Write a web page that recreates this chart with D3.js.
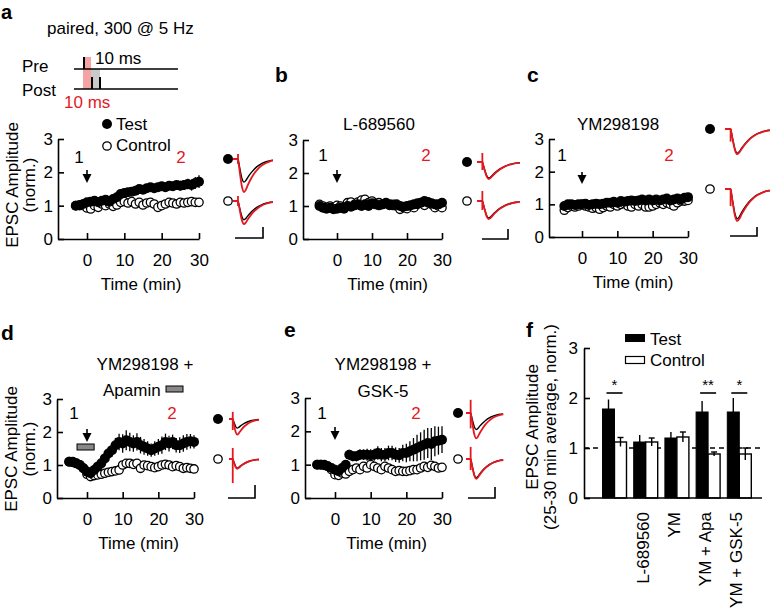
<!DOCTYPE html>
<html>
<head>
<meta charset="utf-8">
<script src="https://cdn.jsdelivr.net/npm/d3@7"></script>
<style>
body { margin: 0; background: #fff; }
svg text { font-family: "Liberation Sans", Arial, sans-serif; }
</style>
</head>
<body>
<script>
const RED = "#e3191f";
const FS = 17;

// time points (min)
const timeA = [-3,-2,-1,0,1,2,3,4,5,6,7,8,9,10,11,12,13,14,15,16,17,18,19,20,21,22,23,24,25,26,27,28,29,30];
const timeFull = [-5,-4,-3,-2,-1,0,1,2,3,4,5,6,7,8,9,10,11,12,13,14,15,16,17,18,19,20,21,22,23,24,25,26,27,28,29,30];

// panel a, paired
const testA = [1.00,1.02,1.05,1.10,1.12,1.15,1.10,1.15,1.18,1.12,1.20,1.25,1.35,1.38,1.40,1.42,1.45,1.50,1.48,1.52,1.55,1.52,1.55,1.58,1.55,1.60,1.58,1.62,1.60,1.62,1.65,1.62,1.68,1.72];
const testAErr = [0.04,0.04,0.05,0.06,0.06,0.07,0.07,0.07,0.08,0.08,0.08,0.09,0.09,0.10,0.10,0.10,0.10,0.11,0.11,0.11,0.12,0.12,0.12,0.13,0.13,0.13,0.14,0.14,0.15,0.15,0.16,0.17,0.18,0.19];
const ctrlA = [1.00,1.00,1.00,0.93,0.90,1.00,0.95,1.05,1.00,1.05,0.98,1.02,1.10,1.12,1.08,1.12,1.05,1.10,1.02,1.08,1.10,1.05,0.95,1.00,1.05,1.10,1.08,1.05,1.10,1.08,1.10,1.12,1.10,1.10];
const ctrlAErr = [0.04,0.04,0.04,0.05,0.05,0.05,0.05,0.05,0.05,0.05,0.05,0.05,0.06,0.06,0.06,0.06,0.06,0.06,0.06,0.06,0.06,0.06,0.06,0.06,0.06,0.06,0.06,0.06,0.06,0.06,0.06,0.06,0.06,0.06];

// panel b, L-689560
const testB = [1.00,0.95,0.92,0.95,0.90,0.92,0.95,0.92,1.00,0.98,1.02,1.05,1.00,1.05,1.00,1.08,1.05,1.02,1.05,1.08,1.05,1.02,1.05,1.00,0.98,1.00,1.02,1.05,1.08,1.10,1.15,1.12,1.08,1.05,1.05,1.10];
const testBErr = [0.05,0.05,0.05,0.05,0.05,0.05,0.05,0.05,0.06,0.06,0.06,0.06,0.06,0.06,0.06,0.06,0.06,0.06,0.07,0.07,0.07,0.07,0.07,0.07,0.07,0.07,0.08,0.08,0.08,0.08,0.10,0.10,0.09,0.08,0.08,0.08];
const ctrlB = [1.05,1.00,0.95,1.00,0.95,1.02,1.00,0.95,1.10,1.12,1.05,1.12,1.18,1.20,1.10,1.15,1.08,1.10,1.05,1.10,1.02,1.05,1.00,0.90,0.95,0.92,1.00,0.95,1.05,1.10,1.02,1.10,1.05,0.95,1.00,0.95];
const ctrlBErr = [0.05,0.05,0.05,0.05,0.05,0.05,0.05,0.05,0.05,0.05,0.05,0.05,0.05,0.05,0.05,0.05,0.05,0.05,0.05,0.05,0.05,0.05,0.05,0.05,0.05,0.05,0.05,0.05,0.05,0.05,0.05,0.05,0.05,0.05,0.05,0.05];

// panel c, YM298198
const testC = [0.95,1.00,1.00,0.98,1.00,1.00,1.02,0.98,1.00,1.02,1.00,1.02,1.05,1.05,1.08,1.05,1.10,1.08,1.10,1.12,1.10,1.12,1.15,1.12,1.15,1.12,1.15,1.12,1.15,1.18,1.12,1.15,1.18,1.15,1.20,1.22];
const testCErr = [0.04,0.04,0.04,0.04,0.04,0.04,0.05,0.05,0.05,0.05,0.05,0.05,0.05,0.05,0.05,0.05,0.05,0.05,0.06,0.06,0.06,0.06,0.06,0.06,0.06,0.06,0.06,0.06,0.06,0.06,0.07,0.07,0.07,0.07,0.08,0.08];
const ctrlC = [0.82,0.90,0.95,0.92,0.95,1.00,0.95,0.92,0.88,0.90,0.85,0.90,0.95,0.92,1.00,0.95,1.00,1.02,0.95,0.92,1.00,0.95,1.00,0.92,0.92,0.95,1.00,1.05,1.00,1.05,1.00,0.95,1.05,1.10,1.10,1.12];
const ctrlCErr = [0.04,0.04,0.04,0.04,0.04,0.04,0.04,0.04,0.04,0.04,0.04,0.04,0.04,0.04,0.04,0.04,0.04,0.04,0.04,0.04,0.04,0.04,0.04,0.04,0.04,0.04,0.04,0.04,0.04,0.04,0.04,0.04,0.04,0.04,0.04,0.04];

// panel d, YM298198 + apamin
const testD = [1.10,1.10,1.05,1.00,0.90,0.80,0.75,0.85,0.95,1.05,1.20,1.35,1.45,1.60,1.70,1.65,1.75,1.70,1.65,1.70,1.60,1.55,1.50,1.45,1.50,1.55,1.60,1.70,1.65,1.70,1.60,1.60,1.65,1.70,1.72,1.70];
const testDErr = [0.05,0.05,0.05,0.05,0.06,0.08,0.08,0.10,0.12,0.14,0.16,0.18,0.20,0.22,0.25,0.28,0.30,0.28,0.25,0.26,0.25,0.24,0.22,0.20,0.22,0.24,0.26,0.25,0.24,0.22,0.22,0.24,0.25,0.24,0.22,0.20];
const ctrlD = [1.10,1.08,1.05,1.00,0.90,0.72,0.65,0.68,0.70,0.72,0.75,0.78,0.80,0.82,0.85,1.00,1.05,1.05,1.02,1.05,0.90,1.00,0.98,0.95,0.92,0.95,1.00,1.02,1.00,0.95,0.98,0.95,0.90,0.92,0.90,0.88];
const ctrlDErr = [0.05,0.05,0.05,0.05,0.05,0.05,0.05,0.05,0.05,0.05,0.05,0.05,0.05,0.05,0.05,0.06,0.06,0.06,0.06,0.06,0.06,0.06,0.06,0.06,0.06,0.06,0.06,0.06,0.06,0.06,0.06,0.06,0.06,0.06,0.06,0.06];

// panel e, YM298198 + GSK-5
const testE = [1.00,1.00,1.00,0.95,0.90,0.85,0.80,0.90,1.00,1.30,1.25,1.25,1.30,1.30,1.30,1.28,1.30,1.35,1.30,1.30,1.35,1.35,1.30,1.28,1.35,1.35,1.40,1.45,1.50,1.55,1.60,1.65,1.62,1.70,1.72,1.75];
const testEErr = [0.04,0.04,0.04,0.05,0.06,0.08,0.10,0.10,0.12,0.15,0.15,0.15,0.16,0.16,0.18,0.18,0.18,0.20,0.20,0.20,0.22,0.22,0.22,0.22,0.25,0.28,0.30,0.35,0.40,0.42,0.45,0.45,0.48,0.45,0.42,0.40];
const ctrlE = [1.00,1.00,0.98,0.95,0.85,0.70,0.68,0.75,0.72,0.80,0.85,0.90,0.85,0.95,0.90,1.00,0.95,0.90,0.85,0.95,0.90,0.85,0.80,0.82,0.80,0.80,0.82,0.85,0.85,0.90,0.95,0.92,0.98,0.95,0.90,0.92];
const ctrlEErr = [0.04,0.04,0.04,0.05,0.06,0.07,0.07,0.07,0.07,0.07,0.07,0.08,0.08,0.08,0.08,0.08,0.08,0.08,0.08,0.08,0.08,0.08,0.08,0.08,0.08,0.08,0.08,0.08,0.08,0.08,0.08,0.08,0.08,0.08,0.08,0.08];

// panel f, 25-30 min averages
const barLabels = ["", "L-689560", "YM", "YM + Apa", "YM + GSK-5"];
const barTest = [1.78, 1.12, 1.20, 1.72, 1.72];
const barTestErr = [0.19, 0.14, 0.12, 0.22, 0.28];
const barCtrl = [1.12, 1.12, 1.22, 0.88, 0.88];
const barCtrlErr = [0.09, 0.08, 0.10, 0.04, 0.12];
const sigGroups = [0, 3, 4];
const sigMarks = ["*", "**", "*"];

// EPSC example traces: template (ms, normalised) and amplitudes in scale-bar units
const shapeT = [0, 5, 5.5, 7, 9, 11, 13, 15, 18, 21, 25, 29, 33, 37, 40];
const shapeV = [0, 0, -0.1, -0.45, -0.85, -1, -0.92, -0.78, -0.6, -0.45, -0.3, -0.19, -0.12, -0.07, -0.05];
const tracePanels = ["a", "b", "c", "d", "e"];
const testBefore = [2.1, 1.6, 2.7, 0.7, 1.5];
const testAfter = [3.0, 1.7, 2.8, 1.2, 2.3];
const ctrlBefore = [1.7, 1.7, 3.3, 0.7, 1.7];
const ctrlAfter = [2.1, 1.8, 3.55, 0.75, 1.8];
const testArtifact = [[0.45, 0.45], [0.9, 0.8], [0, 1.4], [0.55, 0.85], [1.2, 1.4]];
const ctrlArtifact = [[0.45, 0.45], [1.0, 0.9], [0, 1.9], [0.85, 1.85], [1.1, 1.0]];

// stimulation protocol (ms)
const preSpikes = [1.25];
const postSpikes = [11.25, 21.25];
const pairWindow = [0, 10];
const postWindow = [10, 21.25];

var layout = {
  a: {left: 58, zero: 87, end: 199, top: 139, bottom: 239, arrow: [170, 183], l1: [79, 163], l2: [181, 163], yLab: [18, 35, 185]},
  b: {left: 303, zero: 337, end: 442, top: 140, bottom: 239, arrow: [170, 183], l1: [323, 161], l2: [426, 161]},
  c: {left: 549, zero: 582, end: 688, top: 139, bottom: 237, arrow: [172, 184], l1: [562, 161], l2: [669, 161]},
  d: {left: 57, zero: 87, end: 194, top: 399, bottom: 498, arrow: [429, 442], l1: [74, 419], l2: [172, 419], yLab: [17, 35, 449]},
  e: {left: 305, zero: 335, end: 442, top: 398, bottom: 498, arrow: [427, 440], l1: [322, 419], l2: [416, 419]}
};

var traceLayout = {
  a: {cx: 228, yTest: 159, yCtrl: 201, x0: 233, msPx: 1.0, bar: [235, 263, 238, 11]},
  b: {cx: 467, yTest: 162, yCtrl: 201, x0: 477, msPx: 1.07, bar: [482, 508, 239, 10]},
  c: {cx: 710, yTest: 129, yCtrl: 189, x0: 725, msPx: 1.12, bar: [730, 757, 236, 9]},
  d: {cx: 218, yTest: 419, yCtrl: 459, x0: 229, msPx: 0.75, bar: [228, 255, 498, 13]},
  e: {cx: 458, yTest: 413, yCtrl: 459, x0: 466, msPx: 0.93, bar: [468, 495, 498, 11]}
};

var svg = d3.select("body").append("svg")
  .attr("width", 775)
  .attr("height", 608);

function styleAxis(sel) {
  sel.attr("font-family", null).attr("font-size", FS);
  sel.selectAll("path, line").attr("stroke", "#000").attr("stroke-width", 1.6);
  sel.selectAll("text").attr("fill", "#000");
}

function label(txt, x, y, opts) {
  opts = opts || {};
  return svg.append("text")
    .attr("x", x).attr("y", y)
    .attr("font-size", opts.size || FS)
    .attr("font-weight", opts.bold ? "bold" : null)
    .attr("fill", opts.color || "#000")
    .attr("text-anchor", opts.anchor || "start")
    .text(txt);
}

function yLabel(lines, L) {
  svg.append("text").attr("transform", `translate(${L[0]},${L[2]}) rotate(-90)`)
    .attr("text-anchor", "middle").attr("font-size", FS).text(lines[0]);
  svg.append("text").attr("transform", `translate(${L[1]},${L[2]}) rotate(-90)`)
    .attr("text-anchor", "middle").attr("font-size", FS).text(lines[1]);
}

function drawTimePanel(L, time, test, testErr, ctrl, ctrlErr) {
  var x = d3.scaleLinear().domain([0, 30]).range([L.zero, L.end]);
  x.domain([x.invert(L.left), 30]).range([L.left, L.end]);
  var y = d3.scaleLinear().domain([0, 3]).range([L.bottom, L.top]);

  svg.append("g").attr("transform", `translate(0,${L.bottom})`)
    .call(d3.axisBottom(x).tickValues([0, 10, 20, 30]).tickFormat(d3.format("d"))
      .tickSizeInner(-6).tickSizeOuter(0).tickPadding(15))
    .call(styleAxis);
  svg.append("g").attr("transform", `translate(${L.left},0)`)
    .call(d3.axisLeft(y).tickValues([0, 1, 2, 3]).tickFormat(d3.format("d"))
      .tickSizeInner(-6).tickSizeOuter(0).tickPadding(5))
    .call(styleAxis);

  label("Time (min)", (x(0) + x(30)) / 2 - 2, L.bottom + 51, {anchor: "middle"});

  var g = svg.append("g");
  // control first, test on top
  g.selectAll(".ce").data(time).enter().append("line")
    .attr("x1", d => x(d)).attr("x2", d => x(d))
    .attr("y1", (d, i) => y(ctrl[i] - ctrlErr[i]))
    .attr("y2", (d, i) => y(ctrl[i] + ctrlErr[i]))
    .attr("stroke", "#000").attr("stroke-width", 1);
  g.selectAll(".cm").data(time).enter().append("circle")
    .attr("cx", d => x(d)).attr("cy", (d, i) => y(ctrl[i]))
    .attr("r", 4.2).attr("fill", "#fff").attr("stroke", "#000").attr("stroke-width", 1.3);
  g.selectAll(".te").data(time).enter().append("line")
    .attr("x1", d => x(d)).attr("x2", d => x(d))
    .attr("y1", (d, i) => y(test[i] - testErr[i]))
    .attr("y2", (d, i) => y(test[i] + testErr[i]))
    .attr("stroke", "#000").attr("stroke-width", 1.3);
  g.selectAll(".tm").data(time).enter().append("circle")
    .attr("cx", d => x(d)).attr("cy", (d, i) => y(test[i]))
    .attr("r", 5).attr("fill", "#000");

  // arrow at pairing onset
  var ax = x(0);
  svg.append("line").attr("x1", ax).attr("x2", ax)
    .attr("y1", L.arrow[0]).attr("y2", L.arrow[1] - 6)
    .attr("stroke", "#000").attr("stroke-width", 1.6);
  svg.append("path")
    .attr("d", `M${ax - 4.5},${L.arrow[1] - 9}L${ax + 4.5},${L.arrow[1] - 9}L${ax},${L.arrow[1]}Z`)
    .attr("fill", "#000");

  label("1", L.l1[0], L.l1[1], {anchor: "middle"});
  label("2", L.l2[0], L.l2[1], {anchor: "middle", color: RED});
  return {x: x, y: y};
}

function drawTraces(key) {
  var i = tracePanels.indexOf(key);
  var T = traceLayout[key];
  var unit = T.bar[3];
  var tx = d3.scaleLinear().domain([0, 1]).range([T.x0, T.x0 + T.msPx]);
  var rows = [
    {base: T.yCtrl, before: ctrlBefore[i], after: ctrlAfter[i], art: ctrlArtifact[i], filled: false},
    {base: T.yTest, before: testBefore[i], after: testAfter[i], art: testArtifact[i], filled: true}
  ];
  rows.forEach(function(r) {
    [[r.before, "#000", 1.4], [r.after, RED, 1.8]].forEach(function(s) {
      var ty = d3.scaleLinear().domain([0, -1]).range([r.base, r.base + s[0] * unit]);
      var line = d3.line().x((d, k) => tx(shapeT[k])).y(d => ty(d)).curve(d3.curveMonotoneX);
      svg.append("path").attr("d", line(shapeV))
        .attr("fill", "none").attr("stroke", s[1]).attr("stroke-width", s[2]);
    });
    svg.append("line")
      .attr("x1", tx(shapeT[1])).attr("x2", tx(shapeT[1]))
      .attr("y1", r.base - r.art[0] * unit).attr("y2", r.base + r.art[1] * unit)
      .attr("stroke", RED).attr("stroke-width", 1.8);
    svg.append("circle").attr("cx", T.cx).attr("cy", r.base)
      .attr("r", r.filled ? 5 : 4.2)
      .attr("fill", r.filled ? "#000" : "#fff")
      .attr("stroke", "#000").attr("stroke-width", r.filled ? 0 : 1.3);
  });
  // scale bar
  svg.append("path")
    .attr("d", `M${T.bar[0]},${T.bar[2]}H${T.bar[1]}V${T.bar[2] - T.bar[3]}`)
    .attr("fill", "none").attr("stroke", "#000").attr("stroke-width", 1.6);
}

// ---------- panel a protocol ----------
label("a", 1, 19, {bold: true, size: 20});
label("paired, 300 @ 5 Hz", 47, 34);
label("Pre", 22, 72);
label("Post", 22, 96);
var sx = d3.scaleLinear().domain([0, 10]).range([83, 91]);
svg.append("rect").attr("x", sx(pairWindow[0])).attr("width", sx(pairWindow[1]) - sx(pairWindow[0]))
  .attr("y", 57).attr("height", 32).attr("fill", "#f6a3a3");
svg.append("rect").attr("x", sx(postWindow[0])).attr("width", sx(postWindow[1]) - sx(postWindow[0]))
  .attr("y", 69).attr("height", 20).attr("fill", "#c9c9c9");
svg.append("line").attr("x1", sx(-11.25)).attr("x2", sx(118.75)).attr("y1", 69).attr("y2", 69)
  .attr("stroke", "#000").attr("stroke-width", 1.6);
svg.append("line").attr("x1", sx(-11.25)).attr("x2", sx(118.75)).attr("y1", 89).attr("y2", 89)
  .attr("stroke", "#000").attr("stroke-width", 1.6);
svg.selectAll(".pre").data(preSpikes).enter().append("line")
  .attr("x1", d => sx(d)).attr("x2", d => sx(d)).attr("y1", 57).attr("y2", 69)
  .attr("stroke", "#000").attr("stroke-width", 2);
svg.selectAll(".post").data(postSpikes).enter().append("line")
  .attr("x1", d => sx(d)).attr("x2", d => sx(d)).attr("y1", 77).attr("y2", 89)
  .attr("stroke", "#000").attr("stroke-width", 2);
label("10 ms", 95, 64);
label("10 ms", 64, 108, {color: RED});

// legend a
svg.append("circle").attr("cx", 107).attr("cy", 124).attr("r", 5).attr("fill", "#000");
label("Test", 116, 130);
svg.append("circle").attr("cx", 107).attr("cy", 146).attr("r", 4.2)
  .attr("fill", "#fff").attr("stroke", "#000").attr("stroke-width", 1.3);
label("Control", 116, 151);

// ---------- time course panels ----------
drawTimePanel(layout.a, timeA, testA, testAErr, ctrlA, ctrlAErr);
yLabel(["EPSC Amplitude", "(norm.)"], layout.a.yLab);
drawTraces("a");

label("b", 275, 82, {bold: true, size: 21});
label("L-689560", 379, 130, {anchor: "middle"});
drawTimePanel(layout.b, timeFull, testB, testBErr, ctrlB, ctrlBErr);
drawTraces("b");

label("c", 527, 82, {bold: true, size: 21});
label("YM298198", 618, 130, {anchor: "middle"});
drawTimePanel(layout.c, timeFull, testC, testCErr, ctrlC, ctrlCErr);
drawTraces("c");

label("d", 1, 340, {bold: true, size: 21});
label("YM298198 +", 145, 370, {anchor: "middle"});
label("Apamin", 103, 396);
var sd = drawTimePanel(layout.d, timeFull, testD, testDErr, ctrlD, ctrlDErr);
svg.append("rect").attr("x", 166).attr("y", 386).attr("width", 17).attr("height", 6)
  .attr("fill", "#888").attr("stroke", "#000").attr("stroke-width", 1);
svg.append("rect").attr("x", sd.x(-2.8)).attr("y", 444).attr("width", sd.x(2) - sd.x(-2.8)).attr("height", 6)
  .attr("fill", "#888").attr("stroke", "#000").attr("stroke-width", 1);
yLabel(["EPSC Amplitude", "(norm.)"], layout.d.yLab);
drawTraces("d");

label("e", 284, 337, {bold: true, size: 21});
label("YM298198 +", 383, 370, {anchor: "middle"});
label("GSK-5", 383, 397, {anchor: "middle"});
drawTimePanel(layout.e, timeFull, testE, testEErr, ctrlE, ctrlEErr);
drawTraces("e");

// ---------- panel f ----------
label("f", 526, 337, {bold: true, size: 21});
var fx = d3.scalePoint().domain(barLabels.map((d, i) => i)).range([614.5, 739.3]);
var fy = d3.scaleLinear().domain([0, 3]).range([498, 348]);
var bw = 12;

svg.append("line").attr("x1", 584).attr("x2", 762).attr("y1", fy(1)).attr("y2", fy(1))
  .attr("stroke", "#000").attr("stroke-width", 1.4).attr("stroke-dasharray", "5,4");

var fg = svg.append("g");
barLabels.forEach(function(lab, i) {
  var c = fx(i);
  fg.append("line").attr("x1", c - bw / 2).attr("x2", c - bw / 2)
    .attr("y1", fy(barTest[i])).attr("y2", fy(barTest[i] + barTestErr[i]))
    .attr("stroke", "#000").attr("stroke-width", 1.4);
  fg.append("rect").attr("x", c - bw).attr("width", bw)
    .attr("y", fy(barTest[i])).attr("height", fy(0) - fy(barTest[i]))
    .attr("fill", "#000").attr("stroke", "#000").attr("stroke-width", 1);
  fg.append("rect").attr("x", c).attr("width", bw)
    .attr("y", fy(barCtrl[i])).attr("height", fy(0) - fy(barCtrl[i]))
    .attr("fill", "#fff").attr("stroke", "#000").attr("stroke-width", 1.4);
  fg.append("line").attr("x1", c + bw / 2).attr("x2", c + bw / 2)
    .attr("y1", fy(barCtrl[i] - barCtrlErr[i])).attr("y2", fy(barCtrl[i] + barCtrlErr[i]))
    .attr("stroke", "#000").attr("stroke-width", 1.4);
  fg.append("line").attr("x1", c + bw / 2 - 3).attr("x2", c + bw / 2 + 3)
    .attr("y1", fy(barCtrl[i] + barCtrlErr[i])).attr("y2", fy(barCtrl[i] + barCtrlErr[i]))
    .attr("stroke", "#000").attr("stroke-width", 1.4);
  if (lab) {
    svg.append("text").attr("transform", `translate(${c - 3},512) rotate(-90)`)
      .attr("text-anchor", "end").attr("dy", "0.35em").attr("font-size", FS).text(lab);
  }
});

sigGroups.forEach(function(gi, k) {
  var c = fx(gi);
  svg.append("line").attr("x1", c - 8).attr("x2", c + 8).attr("y1", fy(2.1)).attr("y2", fy(2.1))
    .attr("stroke", "#000").attr("stroke-width", 1.6);
  label(sigMarks[k], c, fy(2.1) - 3, {anchor: "middle", size: 15});
});

svg.append("g").attr("transform", "translate(584,0)")
  .call(d3.axisLeft(fy).tickValues([0, 1, 2, 3]).tickFormat(d3.format("d"))
    .tickSizeInner(-6).tickSizeOuter(0).tickPadding(6))
  .call(styleAxis);
svg.append("line").attr("x1", 584).attr("x2", 762).attr("y1", fy(0)).attr("y2", fy(0))
  .attr("stroke", "#000").attr("stroke-width", 1.6);

yLabel(["EPSC Amplitude", "(25-30 min average, norm.)"], [538, 556, 427]);

// legend f
svg.append("rect").attr("x", 625).attr("y", 334).attr("width", 20).attr("height", 8).attr("fill", "#000");
label("Test", 650, 345);
svg.append("rect").attr("x", 625.5).attr("y", 356.5).attr("width", 19).attr("height", 7)
  .attr("fill", "#fff").attr("stroke", "#000").attr("stroke-width", 1.2);
label("Control", 650, 366);
</script>
</body>
</html>
